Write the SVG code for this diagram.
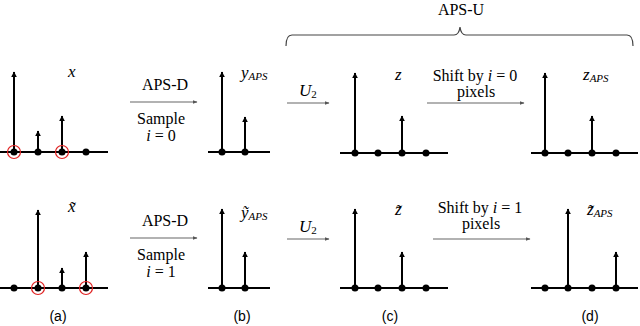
<svg xmlns="http://www.w3.org/2000/svg" width="640" height="326" viewBox="0 0 640 326" font-family="Liberation Serif, serif">
<defs>
<marker id="ah" viewBox="0 0 10 10" refX="9" refY="5" markerWidth="6" markerHeight="6" markerUnits="userSpaceOnUse" orient="auto">
<path d="M0,0 L10,5 L0,10 Z" fill="#000"/>
</marker>
<marker id="ag" viewBox="0 0 10 10" refX="9" refY="5" markerWidth="5" markerHeight="5" markerUnits="userSpaceOnUse" orient="auto">
<path d="M0,1 L10,5 L0,9 Z" fill="#555"/>
</marker>
<style>
.ax{stroke:#000;stroke-width:2;fill:none}
.st{stroke:#000;stroke-width:2;fill:none;marker-end:url(#ah)}
.dot{fill:#000}
.rc{fill:none;stroke:#e02020;stroke-width:1.2}
.flow{stroke:#666;stroke-width:1.2;fill:none;marker-end:url(#ag)}
.t{font-size:16px;fill:#000}
.m{font-style:italic;font-size:17px;fill:#000}
.s{font-size:11px}
.cap{font-size:14px;fill:#000}
</style>
</defs>

<g id="brace">
<path d="M286,46 Q286,35 292,35 L454,35 Q459,35 460,27 Q461,35 466,35 L627,35 Q633,35 633,46" fill="none" stroke="#444" stroke-width="1.2"/>
<text class="t" x="461" y="15" text-anchor="middle">APS-U</text>
</g>

<g id="a-top">
<line class="ax" x1="0" y1="152" x2="108" y2="152"/>
<line class="st" x1="14" y1="152" x2="14" y2="72"/>
<line class="st" x1="38" y1="152" x2="38" y2="131"/>
<line class="st" x1="62" y1="152" x2="62" y2="116"/>
<circle class="dot" cx="14" cy="152" r="3.5"/>
<circle class="dot" cx="38" cy="152" r="3.5"/>
<circle class="dot" cx="62" cy="152" r="3.5"/>
<circle class="dot" cx="86" cy="152" r="3.5"/>
<circle class="rc" cx="14" cy="152" r="6.5"/>
<circle class="rc" cx="62" cy="152" r="6.5"/>
<text class="m" x="68" y="77">x</text>
</g>

<g id="b-top">
<line class="ax" x1="208" y1="152" x2="270" y2="152"/>
<line class="st" x1="222" y1="152" x2="222" y2="72"/>
<line class="st" x1="245" y1="152" x2="245" y2="117"/>
<circle class="dot" cx="222" cy="152" r="3.5"/>
<circle class="dot" cx="245" cy="152" r="3.5"/>
<text class="m" x="241" y="78">y<tspan class="s" dy="2">APS</tspan></text>
</g>

<g id="c-top">
<line class="ax" x1="340" y1="153" x2="448" y2="153"/>
<line class="st" x1="355" y1="153" x2="355" y2="73"/>
<line class="st" x1="402" y1="153" x2="402" y2="116"/>
<circle class="dot" cx="355" cy="153" r="3.5"/>
<circle class="dot" cx="378" cy="153" r="3.5"/>
<circle class="dot" cx="402" cy="153" r="3.5"/>
<circle class="dot" cx="426" cy="153" r="3.5"/>
<text class="m" x="395" y="80">z</text>
</g>

<g id="d-top">
<line class="ax" x1="531" y1="153" x2="638" y2="153"/>
<line class="st" x1="545" y1="153" x2="545" y2="73"/>
<line class="st" x1="592" y1="153" x2="592" y2="116"/>
<circle class="dot" cx="545" cy="153" r="3.5"/>
<circle class="dot" cx="568" cy="153" r="3.5"/>
<circle class="dot" cx="592" cy="153" r="3.5"/>
<circle class="dot" cx="616" cy="153" r="3.5"/>
<text class="m" x="583" y="80">z<tspan class="s" dy="2">APS</tspan></text>
</g>

<g id="a-bot">
<line class="ax" x1="0" y1="288" x2="108" y2="288"/>
<line class="st" x1="38" y1="288" x2="38" y2="210"/>
<line class="st" x1="62" y1="288" x2="62" y2="268"/>
<line class="st" x1="86" y1="288" x2="86" y2="252"/>
<circle class="dot" cx="14" cy="288" r="3.5"/>
<circle class="dot" cx="38" cy="288" r="3.5"/>
<circle class="dot" cx="62" cy="288" r="3.5"/>
<circle class="dot" cx="86" cy="288" r="3.5"/>
<circle class="rc" cx="38" cy="288" r="6.5"/>
<circle class="rc" cx="86" cy="288" r="6.5"/>
<text class="m" x="68" y="212">x̃</text>
</g>

<g id="b-bot">
<line class="ax" x1="208" y1="288" x2="270" y2="288"/>
<line class="st" x1="222" y1="288" x2="222" y2="209"/>
<line class="st" x1="245" y1="288" x2="245" y2="252"/>
<circle class="dot" cx="222" cy="288" r="3.5"/>
<circle class="dot" cx="245" cy="288" r="3.5"/>
<text class="m" x="241" y="218">ỹ<tspan class="s" dy="2">APS</tspan></text>
</g>

<g id="c-bot">
<line class="ax" x1="340" y1="288" x2="448" y2="288"/>
<line class="st" x1="355" y1="288" x2="355" y2="209"/>
<line class="st" x1="402" y1="288" x2="402" y2="252"/>
<circle class="dot" cx="355" cy="288" r="3.5"/>
<circle class="dot" cx="378" cy="288" r="3.5"/>
<circle class="dot" cx="402" cy="288" r="3.5"/>
<circle class="dot" cx="426" cy="288" r="3.5"/>
<text class="m" x="395" y="215">z̃</text>
</g>

<g id="d-bot">
<line class="ax" x1="531" y1="288" x2="638" y2="288"/>
<line class="st" x1="568" y1="288" x2="568" y2="209"/>
<line class="st" x1="616" y1="288" x2="616" y2="252"/>
<circle class="dot" cx="545" cy="288" r="3.5"/>
<circle class="dot" cx="568" cy="288" r="3.5"/>
<circle class="dot" cx="592" cy="288" r="3.5"/>
<circle class="dot" cx="616" cy="288" r="3.5"/>
<text class="m" x="587" y="215">z̃<tspan class="s" dy="2">APS</tspan></text>
</g>

<g id="connectors">
<line class="flow" x1="130" y1="102" x2="197" y2="102"/>
<line class="flow" x1="287" y1="103" x2="329" y2="103"/>
<line class="flow" x1="427" y1="103" x2="524" y2="103"/>
<line class="flow" x1="130" y1="238" x2="197" y2="238"/>
<line class="flow" x1="287" y1="239" x2="329" y2="239"/>
<line class="flow" x1="433" y1="239" x2="530" y2="239"/>
</g>

<g id="labels">
<text class="t" x="165" y="90" text-anchor="middle">APS-D</text>
<text class="t" x="161" y="124" text-anchor="middle">Sample</text>
<text class="t" x="161" y="141" text-anchor="middle"><tspan font-style="italic">i</tspan> = 0</text>
<text class="m" x="299" y="96">U<tspan class="s" font-style="normal" dy="2">2</tspan></text>
<text class="t" x="475" y="81" text-anchor="middle">Shift by <tspan font-style="italic">i</tspan> = 0</text>
<text class="t" x="476" y="97" text-anchor="middle">pixels</text>
<text class="t" x="165" y="226" text-anchor="middle">APS-D</text>
<text class="t" x="161" y="260" text-anchor="middle">Sample</text>
<text class="t" x="161" y="277" text-anchor="middle"><tspan font-style="italic">i</tspan> = 1</text>
<text class="m" x="299" y="232">U<tspan class="s" font-style="normal" dy="2">2</tspan></text>
<text class="t" x="480" y="213" text-anchor="middle">Shift by <tspan font-style="italic">i</tspan> = 1</text>
<text class="t" x="481" y="229" text-anchor="middle">pixels</text>
</g>
<g id="captions" font-family="Liberation Sans, sans-serif">
<text class="cap" x="58" y="321" text-anchor="middle">(a)</text>
<text class="cap" x="242" y="321" text-anchor="middle">(b)</text>
<text class="cap" x="390" y="321" text-anchor="middle">(c)</text>
<text class="cap" x="590" y="321" text-anchor="middle">(d)</text>
</g>
</svg>
